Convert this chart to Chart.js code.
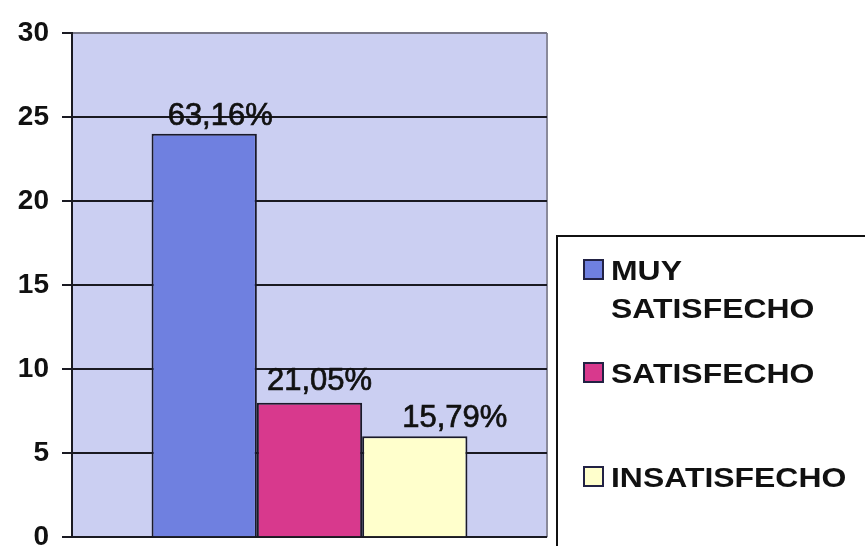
<!DOCTYPE html>
<html><head><meta charset="utf-8">
<script src="https://cdn.jsdelivr.net/npm/chart.js@4/dist/chart.umd.min.js"></script>
<style>html,body{margin:0;padding:0;background:#fff;overflow:hidden;}#wrap{width:865px;height:567px;}</style>
</head><body><div id="wrap"><canvas id="c" width="865" height="567"></canvas></div>
<script>
const categories = [""];
const seriesLabels = [["MUY", "SATISFECHO"], ["SATISFECHO"], ["INSATISFECHO"]];
const seriesValues = [[24], [8], [6]];
const seriesColors = ["#6f80e0", "#d8398d", "#ffffcc"];
const yTicks = [0, 5, 10, 15, 20, 25, 30];

const total = seriesValues.reduce((s, v) => s + v[0], 0);
const pctLabel = v => (v / total * 100).toFixed(2).replace('.', ',') + '%';

const bgPlugin = {
  id: 'bg',
  beforeDraw(chart) {
    const {ctx, chartArea: a} = chart;
    ctx.save();
    ctx.fillStyle = '#cbcff2';
    ctx.fillRect(a.left, a.top, a.right - a.left, a.bottom - a.top);
    ctx.strokeStyle = '#8a8a9a';
    ctx.lineWidth = 2;
    ctx.beginPath();
    ctx.moveTo(a.right, a.top); ctx.lineTo(a.right, a.bottom);
    ctx.stroke();
    ctx.restore();
  },
  afterDatasetsDraw(chart) {
    const {ctx} = chart;
    const shift = [[16, 0], [10, -4], [40, 0]];
    ctx.save();
    ctx.font = '31px "Liberation Sans", Arial, sans-serif';
    ctx.fillStyle = '#111';
    ctx.strokeStyle = '#111';
    ctx.lineWidth = 0.7;
    ctx.textAlign = 'center';
    ctx.textBaseline = 'alphabetic';
    chart.data.datasets.forEach((ds, i) => {
      const el = chart.getDatasetMeta(i).data[0];
      const t = pctLabel(ds.data[0]);
      const x = el.x + shift[i][0], y = el.y - 9 + shift[i][1];
      ctx.fillText(t, x, y);
      ctx.strokeText(t, x, y);
    });
    ctx.restore();
  },
  afterDraw(chart) {
    const {ctx} = chart;
    ctx.save();
    ctx.strokeStyle = '#111';
    ctx.lineWidth = 2;
    ctx.strokeRect(557, 236, 400, 400);
    ctx.textBaseline = 'alphabetic';
    const rowTops = [260, 363, 467];
    chart.data.datasets.forEach((ds, i) => {
      const top = rowTops[i];
      ctx.fillStyle = ds.backgroundColor;
      ctx.fillRect(584, top, 19, 19);
      ctx.strokeStyle = '#222244';
      ctx.lineWidth = 2;
      ctx.strokeRect(584, top, 19, 19);
      ctx.fillStyle = '#111';
      const lines = seriesLabels[i];
      lines.forEach((t, j) => {
        ctx.save();
        ctx.translate(611, top + 20 + j * 38);
        ctx.scale(1.14, 1);
        ctx.font = 'bold 28px "Liberation Sans", Arial, sans-serif';
        ctx.fillText(t, 0, 0);
        ctx.restore();
      });
    });
    ctx.restore();
  }
};

new Chart(document.getElementById('c'), {
  type: 'bar',
  data: {
    labels: categories,
    datasets: seriesValues.map((v, i) => ({
      label: seriesLabels[i].join(' '),
      data: v,
      backgroundColor: seriesColors[i],
      borderColor: '#1a1a2a',
      borderWidth: 2,
      borderSkipped: 'bottom',
      categoryPercentage: 0.665,
      barPercentage: 1.0
    }))
  },
  options: {
    responsive: false,
    animation: false,
    layout: {padding: {left: 0, right: 318, top: 33, bottom: 0}},
    plugins: {legend: {display: false}, tooltip: {enabled: false}},
    scales: {
      x: {display: false},
      y: {
        min: 0, max: 30,
        afterFit(s) { s.width = 72; },
        afterBuildTicks(s) { s.ticks = yTicks.map(v => ({value: v})); },
        grid: {
          color: ctx => ctx.tick && ctx.tick.value === 30 ? '#777788' : '#1a1a22',
          lineWidth: 2,
          tickLength: 10,
          tickColor: '#1a1a22'
        },
        border: {color: '#1a1a22', width: 2},
        ticks: {
          color: '#111',
          padding: 13,
          font: {family: '"Liberation Sans", Arial, sans-serif', size: 28, weight: 'bold'}
        }
      }
    }
  },
  plugins: [bgPlugin]
});
</script></body></html>
